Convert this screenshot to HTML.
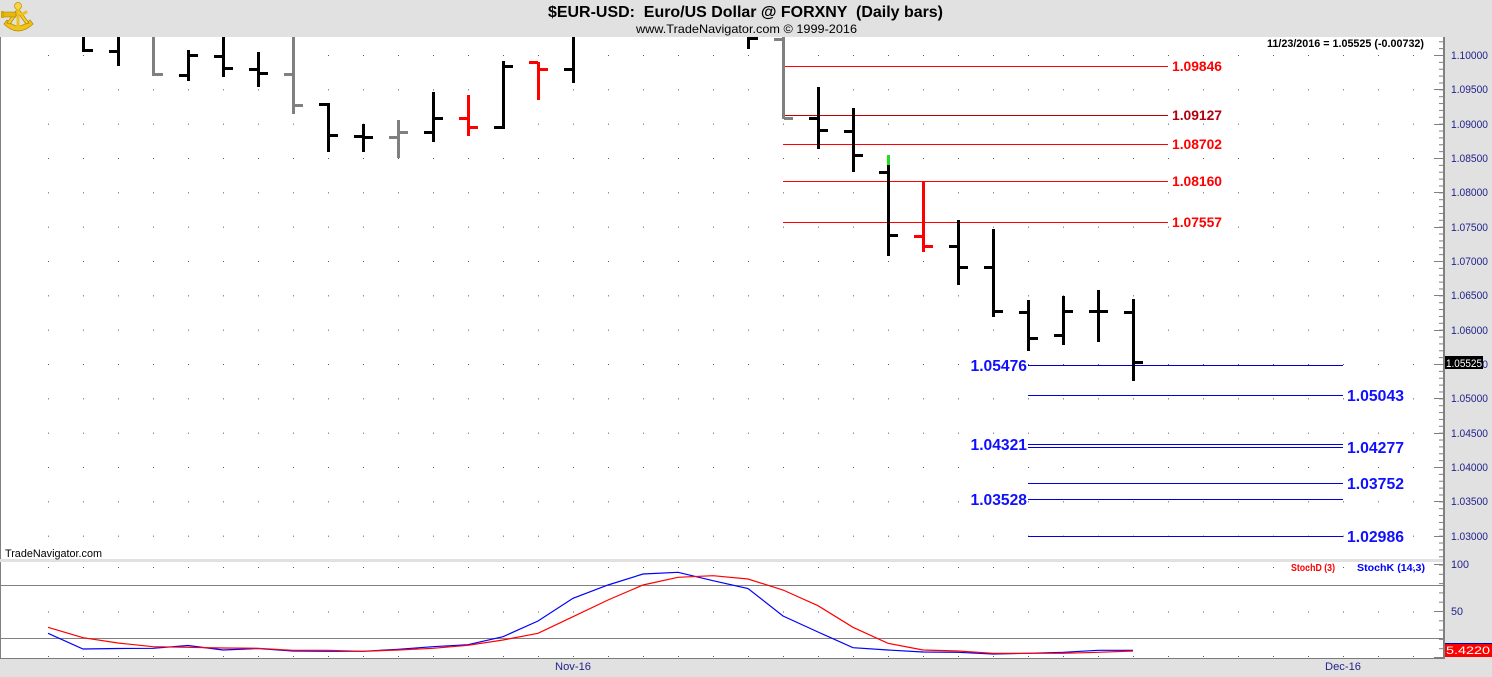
<!DOCTYPE html>
<html>
<head>
<meta charset="utf-8">
<style>
  html,body{margin:0;padding:0;background:#e1e1e1;}
  svg{display:block;font-family:"Liberation Sans",Arial,sans-serif;}
</style>
</head>
<body>
<svg width="1492" height="677" viewBox="0 0 1492 677" xmlns="http://www.w3.org/2000/svg">
  <defs>
    <pattern id="gd" x="48" y="55" width="35" height="34.3333" patternUnits="userSpaceOnUse">
      <rect x="0" y="0" width="1" height="1" fill="#5a5a5a"/>
    </pattern>
    <pattern id="sd" x="48" y="567" width="35" height="44.5" patternUnits="userSpaceOnUse">
      <rect x="0" y="0" width="1" height="1" fill="#5a5a5a"/>
    </pattern>
    <pattern id="mt" x="1439" y="55" width="4" height="6.8667" patternUnits="userSpaceOnUse">
      <rect x="0" y="0" width="4" height="1" fill="#808080"/>
    </pattern>
    <pattern id="st" x="1439" y="564.5" width="4" height="9.3" patternUnits="userSpaceOnUse">
      <rect x="0" y="0" width="4" height="1" fill="#808080"/>
    </pattern>
  </defs>

  <!-- background -->
  <rect x="0" y="0" width="1492" height="677" fill="#e1e1e1"/>
  <!-- main panel -->
  <rect x="0" y="37" width="1443" height="522" fill="#ffffff"/>
  <rect x="0" y="37" width="1" height="522" fill="#808080"/>
  <!-- stoch panel -->
  <rect x="0" y="562" width="1443" height="96" fill="#ffffff"/>
  <rect x="0" y="562" width="1" height="96" fill="#808080"/>
  <rect x="0" y="658" width="1443" height="1" fill="#7a7a7a"/>

  <!-- grid dots -->
  <rect x="48" y="55" width="1367" height="482" fill="url(#gd)"/>
  <rect x="48" y="567" width="1367" height="90" fill="url(#sd)"/>

  <!-- logo (sextant) -->
  <g>
    <path d="M4 24 Q18 38 33 24 L30 20 Q18 32 7 20 Z" fill="#f2c418" stroke="#b68c00" stroke-width="0.8"/>
    <polygon points="18,8 7,23 10,24 18,13 26,24 29,23" fill="#f5cf2a" stroke="#b68c00" stroke-width="0.8"/>
    <rect x="3" y="12" width="13" height="5" rx="1" fill="#e8b810" stroke="#a07a00" stroke-width="0.6"/>
    <rect x="1" y="11" width="3" height="7" fill="#d9a800"/>
    <circle cx="18" cy="6" r="3.5" fill="#f7d640" stroke="#b68c00" stroke-width="0.7"/>
    <rect x="16.5" y="9" width="3" height="18" fill="#eec020"/>
    <rect x="20" y="14" width="8" height="3" fill="#eec020" transform="rotate(-30 20 15)"/>
  </g>

  <!-- title -->
  <text x="548" y="17" font-size="16" font-weight="bold" fill="#000" textLength="395" lengthAdjust="spacingAndGlyphs" style="white-space:pre">$EUR-USD:  Euro/US Dollar @ FORXNY  (Daily bars)</text>
  <text x="636" y="33" font-size="12" fill="#000" textLength="221" lengthAdjust="spacingAndGlyphs">www.TradeNavigator.com © 1999-2016</text>

  <text x="1267" y="47" font-size="11" font-weight="bold" fill="#000" textLength="157" lengthAdjust="spacingAndGlyphs">11/23/2016 = 1.05525 (-0.00732)</text>

  <!-- red resistance lines -->
  <rect x="783" y="66" width="385" height="1" fill="#ff0000"/>
  <rect x="783" y="115" width="385" height="1" fill="#c00000"/>
  <rect x="783" y="144" width="385" height="1" fill="#ff0000"/>
  <rect x="783" y="181" width="385" height="1" fill="#ff0000"/>
  <rect x="783" y="222" width="385" height="1" fill="#ff0000"/>
  <g font-size="14" font-weight="bold" fill="#ff0000">
    <text x="1172" y="71" textLength="50" lengthAdjust="spacingAndGlyphs">1.09846</text>
    <text x="1172" y="120" textLength="50" lengthAdjust="spacingAndGlyphs" fill="#b00010">1.09127</text>
    <text x="1172" y="149" textLength="50" lengthAdjust="spacingAndGlyphs">1.08702</text>
    <text x="1172" y="186" textLength="50" lengthAdjust="spacingAndGlyphs">1.08160</text>
    <text x="1172" y="227" textLength="50" lengthAdjust="spacingAndGlyphs">1.07557</text>
  </g>

  <!-- blue support lines -->
  <rect x="1028" y="365" width="315" height="1" fill="#0000c8"/>
  <rect x="1028" y="395" width="315" height="1" fill="#0000e0"/>
  <rect x="1028" y="444" width="315" height="1" fill="#0000e0"/>
  <rect x="1028" y="447" width="315" height="1" fill="#0000e0"/>
  <rect x="1028" y="483" width="315" height="1" fill="#0000e0"/>
  <rect x="1028" y="499" width="315" height="1" fill="#0000e0"/>
  <rect x="1028" y="536" width="315" height="1" fill="#0000e0"/>
  <g font-size="16" font-weight="bold" fill="#1010ff">
    <text x="970.5" y="371" textLength="56.5" lengthAdjust="spacingAndGlyphs">1.05476</text>
    <text x="970.5" y="450" textLength="56.5" lengthAdjust="spacingAndGlyphs">1.04321</text>
    <text x="970.5" y="505" textLength="56.5" lengthAdjust="spacingAndGlyphs">1.03528</text>
    <text x="1347" y="401" textLength="57" lengthAdjust="spacingAndGlyphs">1.05043</text>
    <text x="1347" y="453" textLength="57" lengthAdjust="spacingAndGlyphs">1.04277</text>
    <text x="1347" y="489" textLength="57" lengthAdjust="spacingAndGlyphs">1.03752</text>
    <text x="1347" y="542" textLength="57" lengthAdjust="spacingAndGlyphs">1.02986</text>
  </g>

  <!-- price bars -->
  <g fill="#000">
    <rect x="82" y="37" width="3" height="15"/><rect x="84" y="49" width="9" height="3"/>
    <rect x="117" y="37" width="3" height="29"/><rect x="109" y="50" width="9" height="3"/>
    <rect x="187" y="50" width="3" height="31"/><rect x="179" y="74" width="9" height="3"/><rect x="189" y="54" width="9" height="3"/>
    <rect x="222" y="37" width="3" height="40"/><rect x="214" y="55" width="9" height="3"/><rect x="224" y="67" width="9" height="3"/>
    <rect x="257" y="52" width="3" height="35"/><rect x="249" y="68" width="9" height="3"/><rect x="259" y="72" width="9" height="3"/>
    <rect x="327" y="103" width="3" height="49"/><rect x="319" y="103" width="9" height="3"/><rect x="329" y="134" width="9" height="3"/>
    <rect x="362" y="124" width="3" height="28"/><rect x="354" y="135" width="9" height="3"/><rect x="364" y="136" width="9" height="3"/>
    <rect x="432" y="92" width="3" height="50"/><rect x="424" y="131" width="9" height="3"/><rect x="434" y="117" width="9" height="3"/>
    <rect x="502" y="61" width="3" height="68"/><rect x="494" y="126" width="9" height="3"/><rect x="504" y="65" width="9" height="3"/>
    <rect x="572" y="37" width="3" height="46"/><rect x="564" y="68" width="9" height="3"/>
    <rect x="747" y="37" width="3" height="12"/><rect x="749" y="37" width="9" height="3"/>
    <rect x="817" y="87" width="3" height="62"/><rect x="809" y="117" width="9" height="3"/><rect x="819" y="129" width="9" height="3"/>
    <rect x="852" y="108" width="3" height="64"/><rect x="844" y="130" width="9" height="3"/><rect x="854" y="154" width="9" height="3"/>
    <rect x="887" y="165" width="3" height="91"/><rect x="879" y="171" width="9" height="3"/><rect x="889" y="234" width="9" height="3"/>
    <rect x="957" y="220" width="3" height="65"/><rect x="949" y="245" width="9" height="3"/><rect x="959" y="266" width="9" height="3"/>
    <rect x="992" y="229" width="3" height="88"/><rect x="984" y="266" width="9" height="3"/><rect x="994" y="310" width="9" height="3"/>
    <rect x="1027" y="300" width="3" height="51"/><rect x="1019" y="311" width="9" height="3"/><rect x="1029" y="337" width="9" height="3"/>
    <rect x="1062" y="296" width="3" height="49"/><rect x="1054" y="334" width="9" height="3"/><rect x="1064" y="310" width="9" height="3"/>
    <rect x="1097" y="290" width="3" height="52"/><rect x="1089" y="310" width="9" height="3"/><rect x="1099" y="310" width="9" height="3"/>
    <rect x="1132" y="299" width="3" height="82"/><rect x="1124" y="311" width="9" height="3"/><rect x="1134" y="361" width="9" height="3"/>
  </g>
  <g fill="#808080">
    <rect x="152" y="37" width="3" height="39"/><rect x="154" y="73" width="9" height="3"/>
    <rect x="292" y="37" width="3" height="77"/><rect x="284" y="73" width="9" height="3"/><rect x="294" y="104" width="9" height="3"/>
    <rect x="397" y="120" width="3" height="38"/><rect x="389" y="136" width="9" height="3"/><rect x="399" y="131" width="9" height="3"/>
    <rect x="782" y="37" width="3" height="82"/><rect x="774" y="38" width="9" height="3"/><rect x="784" y="117" width="9" height="3"/>
  </g>
  <g fill="#ff0000">
    <rect x="467" y="95" width="3" height="41"/><rect x="459" y="117" width="9" height="3"/><rect x="469" y="126" width="9" height="3"/>
    <rect x="537" y="62" width="3" height="38"/><rect x="529" y="61" width="9" height="3"/><rect x="539" y="68" width="9" height="3"/>
    <rect x="922" y="182" width="3" height="70"/><rect x="914" y="235" width="9" height="3"/><rect x="924" y="245" width="9" height="3"/>
  </g>
  <rect x="887" y="155" width="3" height="10" fill="#22dd22"/>

  <text x="5" y="557" font-size="11" fill="#000" textLength="97" lengthAdjust="spacingAndGlyphs">TradeNavigator.com</text>

  <!-- right axis -->
  <rect x="1443" y="37" width="2" height="622" fill="#808080"/>
  <rect x="1439" y="37" width="4" height="521" fill="url(#mt)"/>
  <g fill="#808080">
    <rect x="1434" y="55" width="9" height="1"/><rect x="1434" y="89" width="9" height="1"/>
    <rect x="1434" y="124" width="9" height="1"/><rect x="1434" y="158" width="9" height="1"/>
    <rect x="1434" y="192" width="9" height="1"/><rect x="1434" y="227" width="9" height="1"/>
    <rect x="1434" y="261" width="9" height="1"/><rect x="1434" y="295" width="9" height="1"/>
    <rect x="1434" y="330" width="9" height="1"/><rect x="1434" y="364" width="9" height="1"/>
    <rect x="1434" y="398" width="9" height="1"/><rect x="1434" y="433" width="9" height="1"/>
    <rect x="1434" y="467" width="9" height="1"/><rect x="1434" y="501" width="9" height="1"/>
    <rect x="1434" y="536" width="9" height="1"/>
  </g>
  <g font-size="11" fill="#22228a">
    <text x="1451" y="59" textLength="37" lengthAdjust="spacingAndGlyphs">1.10000</text>
    <text x="1451" y="93" textLength="37" lengthAdjust="spacingAndGlyphs">1.09500</text>
    <text x="1451" y="128" textLength="37" lengthAdjust="spacingAndGlyphs">1.09000</text>
    <text x="1451" y="162" textLength="37" lengthAdjust="spacingAndGlyphs">1.08500</text>
    <text x="1451" y="196" textLength="37" lengthAdjust="spacingAndGlyphs">1.08000</text>
    <text x="1451" y="231" textLength="37" lengthAdjust="spacingAndGlyphs">1.07500</text>
    <text x="1451" y="265" textLength="37" lengthAdjust="spacingAndGlyphs">1.07000</text>
    <text x="1451" y="299" textLength="37" lengthAdjust="spacingAndGlyphs">1.06500</text>
    <text x="1451" y="334" textLength="37" lengthAdjust="spacingAndGlyphs">1.06000</text>
    <text x="1451" y="368" textLength="37" lengthAdjust="spacingAndGlyphs">1.05500</text>
    <text x="1451" y="402" textLength="37" lengthAdjust="spacingAndGlyphs">1.05000</text>
    <text x="1451" y="437" textLength="37" lengthAdjust="spacingAndGlyphs">1.04500</text>
    <text x="1451" y="471" textLength="37" lengthAdjust="spacingAndGlyphs">1.04000</text>
    <text x="1451" y="505" textLength="37" lengthAdjust="spacingAndGlyphs">1.03500</text>
    <text x="1451" y="540" textLength="37" lengthAdjust="spacingAndGlyphs">1.03000</text>
  </g>
  <rect x="1445" y="356" width="38" height="13" fill="#000"/>
  <text x="1446" y="367" font-size="11" fill="#fff" textLength="36" lengthAdjust="spacingAndGlyphs">1.05525</text>

  <!-- stochastic panel -->
  <rect x="1" y="585" width="1442" height="1" fill="#808080"/>
  <rect x="1" y="638" width="1442" height="1" fill="#808080"/>
  <polyline fill="none" stroke="#0000ff" stroke-width="1.2" points="48,633.3 83,649 118,648.5 153,648.3 188,645.5 223,650 258,648.5 293,651 328,651.3 363,651.3 398,649.3 433,646.7 468,644.7 503,636.7 538,621 573,598.3 608,585 643,574 678,572.3 713,580.7 748,588.5 783,616 818,632 853,647.7 888,650 923,652 958,652.3 993,654 1028,653.3 1063,652.3 1098,650.3 1133,650.3"/>
  <polyline fill="none" stroke="#ff0000" stroke-width="1.2" points="48,627.3 83,637.7 118,643 153,646.7 188,647.3 223,648 258,648.3 293,650.3 328,650.3 363,651.3 398,650 433,648.3 468,645.3 503,640 538,633.3 573,616.7 608,600 643,585 678,577.3 713,575.7 748,579 783,590 818,605.7 853,627.3 888,643.3 923,650 958,651 993,653.3 1028,653.3 1063,653.3 1098,652.3 1133,651"/>

  <text x="1291" y="571" font-size="10" font-weight="bold" fill="#ff0000" textLength="44" lengthAdjust="spacingAndGlyphs">StochD (3)</text>
  <text x="1357" y="571" font-size="10" font-weight="bold" fill="#0000ff" textLength="68" lengthAdjust="spacingAndGlyphs">StochK (14,3)</text>

  <rect x="1439" y="564" width="4" height="94" fill="url(#st)"/>
  <g fill="#808080">
    <rect x="1434" y="564" width="9" height="1"/>
    <rect x="1434" y="611" width="9" height="1"/>
    <rect x="1434" y="657" width="9" height="1"/>
  </g>
  <g font-size="11" fill="#22228a">
    <text x="1451" y="568" textLength="18" lengthAdjust="spacingAndGlyphs">100</text>
    <text x="1451" y="615" textLength="12" lengthAdjust="spacingAndGlyphs">50</text>
  </g>
  <rect x="1445" y="643" width="47" height="14" fill="#ff0000"/>
  <rect x="1445" y="643" width="47" height="1" fill="#0000cc"/>
  <text x="1446" y="654" font-size="11" fill="#fff" textLength="44" lengthAdjust="spacingAndGlyphs">5.4220</text>

  <!-- x axis labels -->
  <g font-size="11" fill="#22228a">
    <text x="555" y="670" textLength="36" lengthAdjust="spacingAndGlyphs">Nov-16</text>
    <text x="1325" y="670" textLength="36" lengthAdjust="spacingAndGlyphs">Dec-16</text>
  </g>
</svg>
</body>
</html>
